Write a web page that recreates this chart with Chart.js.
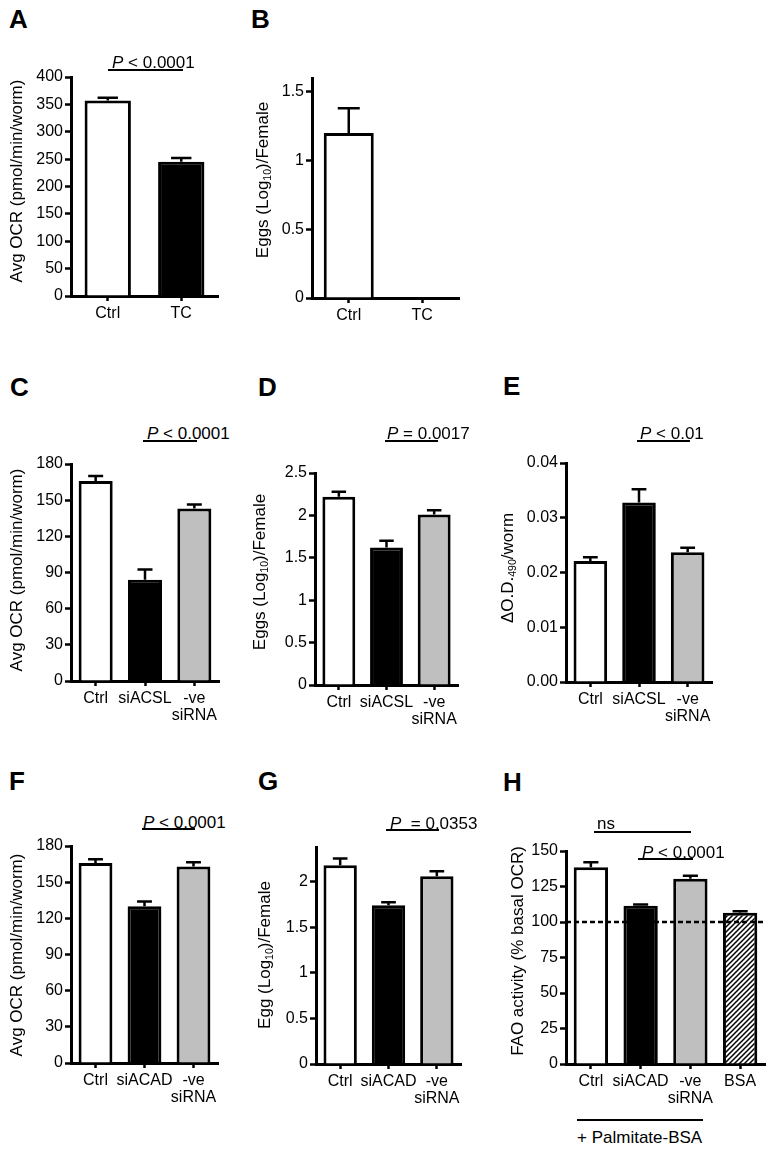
<!DOCTYPE html>
<html lang="en">
<head>
<meta charset="UTF-8" />
<title>OCR and egg output panels A-H</title>
<script src="https://cdn.jsdelivr.net/npm/chart.js"></script>
<style>
  body { margin: 0; background: #fff; font-family: "Liberation Sans", Arial, sans-serif; color: #000; }
  #fig { position: relative; width: 772px; height: 1151px; overflow: hidden; background: #fff; }
  #fig canvas { position: absolute; }
  .letter { position: absolute; font-weight: bold; font-size: 26px; line-height: 1; }
  .note { position: absolute; font-size: 17px; line-height: 1; white-space: nowrap; }
  .rule { position: absolute; height: 2px; background: #000; }
  .ytitle { position: absolute; font-size: 17px; line-height: 1; white-space: nowrap; transform: translate(-50%, -50%) rotate(-90deg); }
  sub { font-size: 0.62em; vertical-align: -0.3em; line-height: 0; }
</style>
</head>
<body>
<div id="fig">
  <canvas id="cA"></canvas><canvas id="cB"></canvas>
  <canvas id="cC"></canvas><canvas id="cD"></canvas><canvas id="cE"></canvas>
  <canvas id="cF"></canvas><canvas id="cG"></canvas><canvas id="cH"></canvas>

  <!-- panel letters -->
  <div class="letter" style="left:9px;top:6px">A</div>
  <div class="letter" style="left:251px;top:6px">B</div>
  <div class="letter" style="left:10px;top:374px">C</div>
  <div class="letter" style="left:258px;top:374px">D</div>
  <div class="letter" style="left:503px;top:373px">E</div>
  <div class="letter" style="left:9px;top:768px">F</div>
  <div class="letter" style="left:258px;top:768px">G</div>
  <div class="letter" style="left:503px;top:769px">H</div>

  <!-- axis titles -->
  <div class="ytitle" style="left:16px;top:181px">Avg OCR (pmol/min/worm)</div>
  <div class="ytitle" style="left:262px;top:180px">Eggs (Log<sub>10</sub>)/Female</div>
  <div class="ytitle" style="left:16px;top:570px">Avg OCR (pmol/min/worm)</div>
  <div class="ytitle" style="left:259px;top:572px">Eggs (Log<sub>10</sub>)/Female</div>
  <div class="ytitle" style="left:507px;top:568px">&Delta;O.D.<sub>490</sub>/worm</div>
  <div class="ytitle" style="left:16px;top:955px">Avg OCR (pmol/min/worm)</div>
  <div class="ytitle" style="left:264px;top:955px">Egg (Log<sub>10</sub>)/Female</div>
  <div class="ytitle" style="left:517px;top:951px">FAO activity (% basal OCR)</div>

  <!-- significance notes -->
  <div class="note" style="left:112px;top:54px"><i>P</i> &lt; 0.0001</div>
  <div class="rule" style="left:108px;top:69px;width:75px"></div>
  <div class="note" style="left:147px;top:425px"><i>P</i> &lt; 0.0001</div>
  <div class="rule" style="left:143px;top:440px;width:54px"></div>
  <div class="note" style="left:387px;top:425px"><i>P</i> = 0.0017</div>
  <div class="rule" style="left:385px;top:440px;width:53px"></div>
  <div class="note" style="left:640px;top:425px"><i>P</i> &lt; 0.01</div>
  <div class="rule" style="left:637px;top:440px;width:53px"></div>
  <div class="note" style="left:143px;top:814px"><i>P</i> &lt; 0.0001</div>
  <div class="rule" style="left:142px;top:828px;width:53px"></div>
  <div class="note" style="left:390px;top:815px"><i>P</i> &nbsp;= 0.0353</div>
  <div class="rule" style="left:386px;top:829px;width:53px"></div>
  <div class="note" style="left:597px;top:815px">ns</div>
  <div class="rule" style="left:594px;top:831px;width:97px"></div>
  <div class="note" style="left:642px;top:844px"><i>P</i> &lt; 0.0001</div>
  <div class="rule" style="left:638px;top:858px;width:55px"></div>
  <div class="rule" style="left:577px;top:1119px;width:126px"></div>
  <div class="note" style="left:577px;top:1129px">+ Palmitate-BSA</div>
</div>

<script>
  // ---- data ----
  const labelsA = ['Ctrl', 'TC'];
  const ocrA = [357, 245];
  const ocrErrA = [5, 7];
  const ticksA = [0, 50, 100, 150, 200, 250, 300, 350, 400];

  const labelsB = ['Ctrl', 'TC'];
  const eggsB = [1.2, 0];
  const eggsErrB = [0.18, 0];
  const ticksB = [0, 0.5, 1, 1.5];

  const labelsC = ['Ctrl', 'siACSL', ['-ve', 'siRNA']];
  const ocrC = [166, 84, 143];
  const ocrErrC = [4, 8.5, 3.5];
  const ticksC = [0, 30, 60, 90, 120, 150, 180];

  const eggsD = [2.22, 1.62, 2.01];
  const eggsErrD = [0.06, 0.08, 0.05];
  const ticksD = [0, 0.5, 1, 1.5, 2, 2.5];

  const odE = [0.0221, 0.0328, 0.0237];
  const odErrE = [0.0007, 0.0024, 0.0008];
  const ticksE = [0, 0.01, 0.02, 0.03, 0.04];

  const labelsF = ['Ctrl', 'siACAD', ['-ve', 'siRNA']];
  const ocrF = [166, 130, 163];
  const ocrErrF = [3, 4, 3.5];
  const ticksF = [0, 30, 60, 90, 120, 150, 180];

  const eggG = [2.18, 1.74, 2.06];
  const eggErrG = [0.075, 0.035, 0.055];
  const ticksG = [0, 0.5, 1, 1.5, 2];

  const labelsH = ['Ctrl', 'siACAD', ['-ve', 'siRNA'], 'BSA'];
  const faoH = [138.5, 111.5, 130.5, 106.5];
  const faoErrH = [3.5, 0.8, 2, 1];
  const ticksH = [0, 25, 50, 75, 100, 125, 150];
  const baselineH = 100;

  // ---- styling ----
  Chart.defaults.font.family = '"Liberation Sans", Arial, sans-serif';
  Chart.defaults.font.size = 16;
  Chart.defaults.color = '#000';

  const WHITE = '#ffffff', BLACK = '#000000', GREY = '#bfbfbf';

  function hatch() {
    const c = document.createElement('canvas');
    c.width = 5; c.height = 5;
    const g = c.getContext('2d');
    g.fillStyle = '#fff';
    g.fillRect(0, 0, 5, 5);
    g.strokeStyle = '#000';
    g.lineWidth = 1.5;
    g.beginPath();
    g.moveTo(0, 5); g.lineTo(5, 0);
    g.moveTo(-1, 1); g.lineTo(1, -1);
    g.moveTo(4, 6); g.lineTo(6, 4);
    g.stroke();
    return g.createPattern(c, 'repeat');
  }

  // error bars (upper only) + optional dashed reference line
  const extras = {
    id: 'extras',
    afterDatasetsDraw(chart, args, opts) {
      const ctx = chart.ctx;
      const ys = chart.scales.y;
      const ds = chart.data.datasets[0];
      const meta = chart.getDatasetMeta(0);
      ctx.save();
      ctx.strokeStyle = '#000';
      ctx.lineWidth = 2.5;
      if (opts.refLine != null) {
        const py = Math.round(ys.getPixelForValue(opts.refLine));
        ctx.setLineDash([5, 3]);
        ctx.beginPath();
        ctx.moveTo(chart.chartArea.left, py);
        ctx.lineTo(chart.chartArea.right, py);
        ctx.stroke();
        ctx.setLineDash([]);
      }
      meta.data.forEach((bar, i) => {
        const err = (opts.errors || [])[i];
        if (!err) return;
        const top = ys.getPixelForValue(ds.data[i] + err);
        const half = bar.width * 0.22;
        ctx.beginPath();
        ctx.moveTo(bar.x, bar.y);
        ctx.lineTo(bar.x, top);
        ctx.moveTo(bar.x - half, top);
        ctx.lineTo(bar.x + half, top);
        ctx.stroke();
      });
      ctx.restore();
    }
  };

  const plain = v => String(v);

  function drawPanel(p) {
    const cv = document.getElementById(p.id);
    const YW = 60, XH = 52, PT = 14, PR = 10;
    cv.width = p.right - p.axisX + YW + PR;
    cv.height = p.bottom - p.top + PT + XH;
    cv.style.left = (p.axisX - YW) + 'px';
    cv.style.top = (p.top - PT) + 'px';

    new Chart(cv, {
      type: 'bar',
      data: {
        labels: p.labels,
        datasets: [{
          data: p.values,
          backgroundColor: p.colors,
          borderColor: '#000',
          borderWidth: 3,
          borderSkipped: 'start',
          barPercentage: p.barPct || 0.69,
          categoryPercentage: 1
        }]
      },
      options: {
        responsive: false,
        animation: false,
        devicePixelRatio: 1,
        layout: { padding: { top: PT, right: PR, left: 0, bottom: 0 } },
        plugins: {
          legend: { display: false },
          tooltip: { enabled: false },
          extras: { errors: p.errors, refLine: p.refLine }
        },
        scales: {
          x: {
            offset: true,
            grid: { display: true, offset: false, drawOnChartArea: false, tickLength: 5, tickWidth: 2.5, tickColor: '#000' },
            border: { color: '#000', width: 3 },
            ticks: { padding: 4, font: { size: 16, lineHeight: 1.05 }, maxRotation: 0, autoSkip: false },
            afterFit: s => { s.height = XH; }
          },
          y: {
            min: 0,
            max: p.max,
            grid: { drawOnChartArea: false, tickLength: 6, tickWidth: 2.5, tickColor: '#000' },
            border: { color: '#000', width: 3 },
            ticks: { padding: 2, font: { size: 16 }, callback: p.fmt || plain },
            afterBuildTicks: s => { s.ticks = p.ticks.map(v => ({ value: v })); },
            afterFit: s => { s.width = YW; }
          }
        }
      },
      plugins: [extras]
    });
  }

  const pattern = hatch();

  drawPanel({ id: 'cA', axisX: 71, top: 77, bottom: 296, right: 218, labels: labelsA, values: ocrA, errors: ocrErrA,
    colors: [WHITE, BLACK], ticks: ticksA, max: 400, barPct: 0.63 });
  drawPanel({ id: 'cB', axisX: 312, top: 78, bottom: 298, right: 459, labels: labelsB, values: eggsB, errors: eggsErrB,
    colors: [WHITE, WHITE], ticks: ticksB, max: 1.6, barPct: 0.68 });
  drawPanel({ id: 'cC', axisX: 71, top: 464, bottom: 681, right: 219, labels: labelsC, values: ocrC, errors: ocrErrC,
    colors: [WHITE, BLACK, GREY], ticks: ticksC, max: 180 });
  drawPanel({ id: 'cD', axisX: 315, top: 473, bottom: 685, right: 458, labels: labelsC, values: eggsD, errors: eggsErrD,
    colors: [WHITE, BLACK, GREY], ticks: ticksD, max: 2.5 });
  drawPanel({ id: 'cE', axisX: 566, top: 463, bottom: 682, right: 712, labels: labelsC, values: odE, errors: odErrE,
    colors: [WHITE, BLACK, GREY], ticks: ticksE, max: 0.04, fmt: v => v.toFixed(2) });
  drawPanel({ id: 'cF', axisX: 71, top: 846, bottom: 1063, right: 218, labels: labelsF, values: ocrF, errors: ocrErrF,
    colors: [WHITE, BLACK, GREY], ticks: ticksF, max: 180 });
  drawPanel({ id: 'cG', axisX: 316, top: 847, bottom: 1064, right: 461, labels: labelsF, values: eggG, errors: eggErrG,
    colors: [WHITE, BLACK, GREY], ticks: ticksG, max: 2.38 });
  drawPanel({ id: 'cH', axisX: 566, top: 851, bottom: 1064, right: 765, labels: labelsH, values: faoH, errors: faoErrH,
    colors: [WHITE, BLACK, GREY, pattern], ticks: ticksH, max: 150, refLine: baselineH });
</script>
</body>
</html>
